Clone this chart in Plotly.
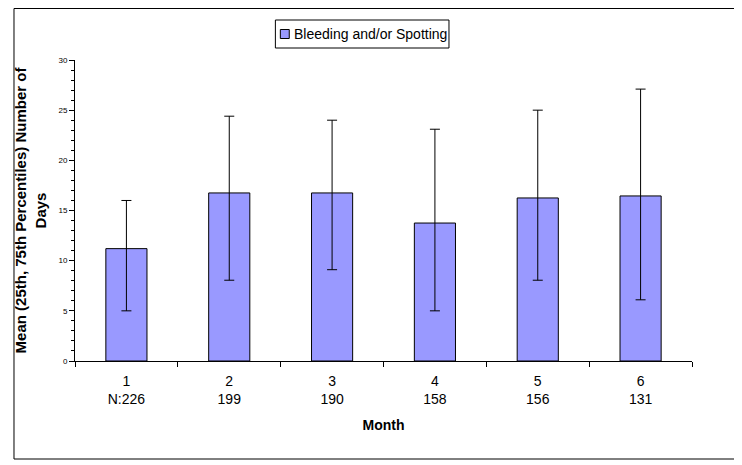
import plotly.graph_objects as go

months = ["1", "2", "3", "4", "5", "6"]
n_labels = ["N:226", "199", "190", "158", "156", "131"]
mean_days = [11.2, 16.75, 16.75, 13.75, 16.25, 16.45]
p75 = [16.0, 24.4, 24.0, 23.1, 25.0, 27.1]
p25 = [5.0, 8.05, 9.1, 5.0, 8.05, 6.1]
series_name = "Bleeding and/or Spotting"

err_plus = [u - m for u, m in zip(p75, mean_days)]
err_minus = [m - l for m, l in zip(mean_days, p25)]
cats = [f"{m}<br>{n}" for m, n in zip(months, n_labels)]

BAR_COLOR = "#9999FF"

fig = go.Figure()
fig.add_trace(go.Bar(
    x=cats, y=mean_days, name=series_name, showlegend=False,
    marker=dict(color=BAR_COLOR, line=dict(color="black", width=1)),
    width=0.4,
    error_y=dict(type="data", symmetric=False, array=err_plus, arrayminus=err_minus,
                 color="black", thickness=1, width=5),
))

# page body has an 8px margin, so the figure is drawn 8px in from the window edge
OFF = 8
W, H = 742 - OFF, 465 - OFF
L, R, T, B = 70 - OFF, 50, 60 - OFF, 104
pw, ph = W - L - R, H - T - B

def px(x):
    return (x - OFF - L) / pw

def py(y):
    return (H - B - (y - OFF)) / ph

# outer chart border
fig.add_shape(type="rect", xref="paper", yref="paper",
              x0=px(8.5), x1=px(737), y0=py(459), y1=py(8.5),
              line=dict(color="black", width=1), fillcolor="rgba(0,0,0,0)")
# legend box
fig.add_shape(type="rect", xref="paper", yref="paper",
              x0=px(272), x1=px(447), y0=py(48), y1=py(20),
              line=dict(color="black", width=1), fillcolor="white")
fig.add_shape(type="rect", xref="paper", yref="paper",
              x0=px(277), x1=px(286), y0=py(38.5), y1=py(29.5),
              line=dict(color="black", width=1), fillcolor=BAR_COLOR)
fig.add_annotation(xref="paper", yref="paper", x=px(289), y=py(34),
                   xanchor="left", yanchor="middle", showarrow=False,
                   text=series_name, font=dict(size=14))

fig.update_layout(
    width=W, height=H,
    margin=dict(l=L, r=R, t=T, b=B),
    paper_bgcolor="white", plot_bgcolor="white",
    font=dict(family="Liberation Sans, Arial, sans-serif", color="black"),
    showlegend=False,
)
fig.update_xaxes(
    type="category", showline=True, linecolor="black", linewidth=1,
    ticks="outside", tickson="boundaries", ticklen=5, tickcolor="black",
    tickfont=dict(size=14), showgrid=False, ticklabelstandoff=7,
    title=dict(text="<b>Month</b>", font=dict(size=14), standoff=14),
)
fig.update_yaxes(
    range=[0, 30], dtick=5, showline=True, linecolor="black", linewidth=1,
    ticks="outside", ticklen=5, tickcolor="black", showgrid=False, zeroline=False,
    tickfont=dict(size=8),
    minor=dict(dtick=1, ticks="outside", ticklen=3, tickcolor="black", showgrid=False),
    title=dict(text="<b>Mean (25th, 75th Percentiles) Number of<br>Days</b>",
               font=dict(size=15), standoff=8),
)

fig.write_html("out.html")
